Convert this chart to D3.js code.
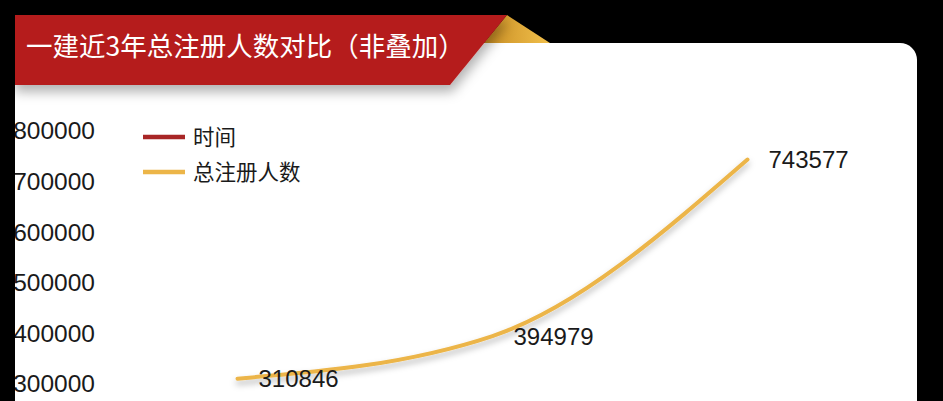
<!DOCTYPE html>
<html>
<head>
<meta charset="utf-8">
<script src="https://cdn.jsdelivr.net/npm/d3@7"></script>
<style>
  html, body { margin: 0; padding: 0; background: #000; }
  #chart { width: 943px; height: 401px; }
</style>
</head>
<body>
<div id="chart"></div>
<script>
// chart data
const title = "一建近3年总注册人数对比（非叠加）";
const years = ["2019", "2020", "2021"];
const registered = [310846, 394979, 743577];
const seriesNames = ["时间", "总注册人数"];
const seriesColors = ["#a82626", "#ecb548"];
const yTicks = [300000, 400000, 500000, 600000, 700000, 800000];

const width = 943, height = 401;
const font = "'Liberation Sans', 'Noto Sans CJK SC', sans-serif";

const svg = d3.select("#chart")
  .append("svg")
  .attr("width", width)
  .attr("height", height);

const defs = svg.append("defs");

// soft shadows
const lineShadow = defs.append("filter").attr("id", "lineShadow")
  .attr("x", "-10%").attr("y", "-20%").attr("width", "120%").attr("height", "150%");
lineShadow.append("feDropShadow")
  .attr("dx", 0).attr("dy", 4).attr("stdDeviation", 3)
  .attr("flood-color", "#000").attr("flood-opacity", 0.28);

const bannerShadow = defs.append("filter").attr("id", "bannerShadow")
  .attr("x", "-5%").attr("y", "-20%").attr("width", "115%").attr("height", "170%");
bannerShadow.append("feDropShadow")
  .attr("dx", 2).attr("dy", 7).attr("stdDeviation", 6)
  .attr("flood-color", "#000").attr("flood-opacity", 0.3);

const goldGrad = defs.append("linearGradient").attr("id", "goldGrad")
  .attr("x1", "0%").attr("x2", "100%").attr("y1", "0%").attr("y2", "0%");
goldGrad.append("stop").attr("offset", "0%").attr("stop-color", "#c98d22");
goldGrad.append("stop").attr("offset", "100%").attr("stop-color", "#f1c04c");

// white card with rounded top-right corner
const cardPath = "M15,43 H900 A17,17 0 0 1 917,60 V" + (height + 20) + " H15 Z";
svg.append("path").attr("d", cardPath).attr("fill", "#fff");

defs.append("clipPath").attr("id", "cardClip")
  .append("path").attr("d", cardPath);

const chart = svg.append("g").attr("clip-path", "url(#cardClip)");

// scales
const x = d3.scaleBand().domain(years).range([110, 875]);
const y = d3.scaleLinear().domain([0, 800000]).range([536, 131]);
const cx = (yr) => x(yr) + x.bandwidth() / 2;

// y axis (labels only)
const yAxis = d3.axisLeft(y)
  .tickValues(yTicks)
  .tickSize(0)
  .tickPadding(0)
  .tickFormat(d3.format("d"));

chart.append("g")
  .attr("class", "y-axis")
  .attr("transform", "translate(95,0)")
  .call(yAxis)
  .call(g => g.select(".domain").remove())
  .selectAll("text")
  .attr("font-family", font)
  .attr("font-size", 24.5)
  .attr("fill", "#1a1a1a");

// line
const line = d3.line()
  .x((d, i) => cx(years[i]))
  .y(d => y(d))
  .curve(d3.curveMonotoneX);

chart.append("path")
  .datum(registered)
  .attr("d", line)
  .attr("fill", "none")
  .attr("stroke", seriesColors[1])
  .attr("stroke-width", 4)
  .attr("stroke-linecap", "round")
  .attr("filter", "url(#lineShadow)");

// value labels
chart.selectAll("text.val")
  .data(registered)
  .join("text")
  .attr("class", "val")
  .attr("x", (d, i) => cx(years[i]) + 21)
  .attr("y", d => y(d))
  .attr("dy", "0.36em")
  .attr("font-family", font)
  .attr("font-size", 24)
  .attr("fill", "#1a1a1a")
  .text(d => String(d));

// legend
const legend = chart.append("g").attr("transform", "translate(143,137)");
const items = legend.selectAll("g.item")
  .data(seriesNames)
  .join("g")
  .attr("class", "item")
  .attr("transform", (d, i) => `translate(0, ${i * 35})`);

items.append("line")
  .attr("x1", 0).attr("x2", 42)
  .attr("stroke", (d, i) => seriesColors[i])
  .attr("stroke-width", 4.5);

items.append("text")
  .attr("x", 50)
  .attr("dy", "0.36em")
  .attr("font-family", font)
  .attr("font-size", 21.5)
  .attr("fill", "#1a1a1a")
  .text(d => d);

// title banner
svg.append("polygon")
  .attr("points", "507,15 550,43 484,43")
  .attr("fill", "url(#goldGrad)");

svg.append("polygon")
  .attr("points", "13,15 507,15 450,85 13,85")
  .attr("fill", "#b51f1f")
  .attr("filter", "url(#bannerShadow)");

svg.append("text")
  .attr("x", 26)
  .attr("y", 56)
  .attr("font-family", "'Noto Sans CJK SC', sans-serif")
  .attr("font-size", 26.5)
  .attr("font-weight", 400)
  .attr("fill", "#fff")
  .text(title);

// black frame strip on the left
svg.append("rect")
  .attr("x", 0).attr("y", 0)
  .attr("width", 15).attr("height", height)
  .attr("fill", "#000");
</script>
</body>
</html>
